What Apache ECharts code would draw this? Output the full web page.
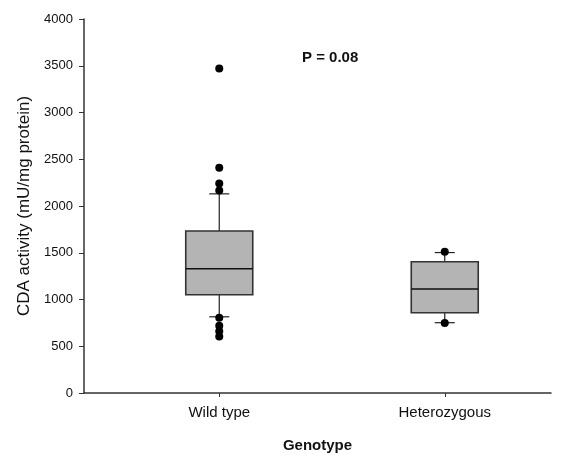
<!DOCTYPE html>
<html>
<head>
<meta charset="utf-8">
<script src="https://cdn.jsdelivr.net/npm/echarts@6/dist/echarts.min.js"></script>
<style>html,body{margin:0;padding:0;background:#fff}#c{width:570px;height:455px}</style>
</head>
<body>
<div id="c"></div>
<script>
const categories = ['Wild type', 'Heterozygous'];
// [lower whisker, Q1, median, Q3, upper whisker]
const boxStats = [
  [815, 1050, 1330, 1733, 2130],
  [752, 858, 1112, 1404, 1502]
];
// outliers: [category index, value]
const outliers = [
  [0, 3470], [0, 2410], [0, 2240], [0, 2165],
  [0, 805], [0, 720], [0, 660], [0, 605],
  [1, 1510], [1, 748]
];
const yTicks = { min: 0, max: 4000, interval: 500 };
const pText = 'P = 0.08';

const font = '"Liberation Sans", Arial, Helvetica, sans-serif';
const chart = echarts.init(document.getElementById('c'), null, { renderer: 'canvas' });

const boxData = boxStats.map((s, i) => [i].concat(s));

chart.setOption({
  animation: false,
  backgroundColor: '#fff',
  grid: [
    { left: 84, right: 19, top: 19, bottom: 62, containLabel: false, outerBoundsMode: 'none' },
    { left: 106.5, right: 12.5, top: 19, bottom: 62, containLabel: false, outerBoundsMode: 'none' }
  ],
  xAxis: [
    {
      gridIndex: 0, type: 'value', min: 0, max: 1,
      axisLine: { show: true, lineStyle: { color: '#333', width: 1.5 } },
      axisTick: { show: false }, axisLabel: { show: false }, splitLine: { show: false },
      name: 'Genotype', nameLocation: 'middle', nameGap: 45,
      nameTextStyle: { fontFamily: font, fontSize: 15, fontWeight: 'bold', color: '#111' }
    },
    {
      gridIndex: 1, type: 'category', data: categories,
      axisLine: { show: false },
      axisTick: { show: true, alignWithLabel: true, length: 4, inside: false, lineStyle: { color: '#333' } },
      axisLabel: { margin: 12, fontFamily: font, fontSize: 15, color: '#111' },
      splitLine: { show: false }
    }
  ],
  yAxis: [
    {
      gridIndex: 0, type: 'value', min: yTicks.min, max: yTicks.max, interval: yTicks.interval,
      axisLine: { show: true, lineStyle: { color: '#333', width: 1.5 } },
      axisTick: { show: true, length: 5, lineStyle: { color: '#333' } },
      axisLabel: { margin: 11, fontFamily: font, fontSize: 13, color: '#111', formatter: v => String(v) },
      splitLine: { show: false },
      name: 'CDA activity (mU/mg protein)', nameLocation: 'middle', nameGap: 50,
      nameTextStyle: { fontFamily: font, fontSize: 17, color: '#111' }
    },
    {
      gridIndex: 1, type: 'value', min: yTicks.min, max: yTicks.max, interval: yTicks.interval,
      show: false
    }
  ],
  graphic: [
    {
      type: 'text', left: 331 - 29, top: 50,
      style: { text: pText, font: 'bold 15px ' + font, fill: '#111' }
    }
  ],
  series: [
    {
      type: 'custom', xAxisIndex: 1, yAxisIndex: 1,
      data: boxData,
      encode: { x: 0, y: [1, 2, 3, 4, 5] },
      renderItem: function (params, api) {
        const c = api.value(0);
        const p = [1, 2, 3, 4, 5].map(k => api.coord([c, api.value(k)]));
        const cx = p[0][0];
        const hw = 33.5, cap = 10;
        const line = { stroke: '#222', lineWidth: 1.2 };
        return {
          type: 'group',
          children: [
            { type: 'line', shape: { x1: cx, y1: p[0][1], x2: cx, y2: p[1][1] }, style: line },
            { type: 'line', shape: { x1: cx, y1: p[3][1], x2: cx, y2: p[4][1] }, style: line },
            { type: 'line', shape: { x1: cx - cap, y1: p[0][1], x2: cx + cap, y2: p[0][1] }, style: line },
            { type: 'line', shape: { x1: cx - cap, y1: p[4][1], x2: cx + cap, y2: p[4][1] }, style: line },
            { type: 'rect', shape: { x: cx - hw, y: p[3][1], width: 2 * hw, height: p[1][1] - p[3][1] },
              style: { fill: '#b4b4b4', stroke: '#333', lineWidth: 1.6 } },
            { type: 'line', shape: { x1: cx - hw, y1: p[2][1], x2: cx + hw, y2: p[2][1] },
              style: { stroke: '#111', lineWidth: 1.5 } }
          ]
        };
      },
      z: 2
    },
    {
      type: 'scatter', xAxisIndex: 1, yAxisIndex: 1,
      data: outliers, symbol: 'circle', symbolSize: 8,
      itemStyle: { color: '#000', opacity: 1 }, z: 3
    }
  ]
});
</script>
</body>
</html>
